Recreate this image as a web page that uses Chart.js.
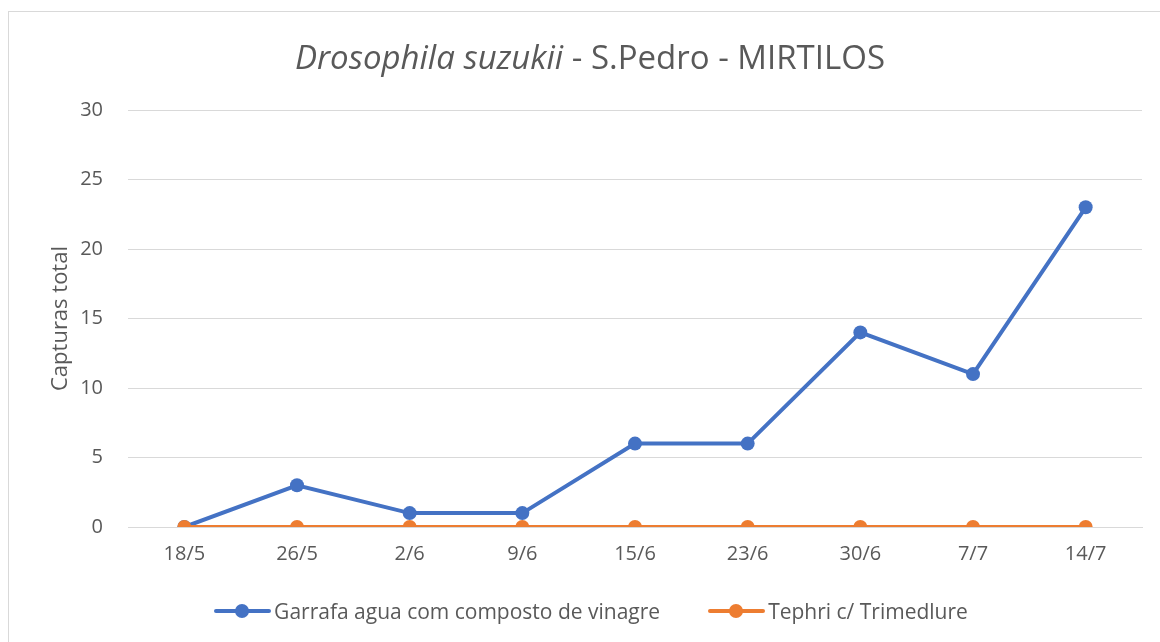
<!DOCTYPE html>
<html>
<head>
<meta charset="utf-8">
<script src="https://cdn.jsdelivr.net/npm/chart.js@4.4.0/dist/chart.umd.min.js"></script>
<style>
    body { margin: 0; background: #fff; font-family: 'Open Sans', sans-serif; }
    #wrap { position: relative; width: 1160px; height: 642px; overflow: hidden; }
    #frame { position: absolute; left: 8px; top: 11px; width: 1200px; height: 700px; border: 1px solid #d9d9d9; }
    #title { position: absolute; left: 0; top: 35px; width: 1180px; text-align: center; font-size: 33px; color: #595959; line-height: 44px; }
    #legend { position: absolute; left: 22px; top: 596px; width: 1138px; display: flex; justify-content: center; gap: 48px; font-size: 21px; color: #595959; }
    .item { display: flex; align-items: center; gap: 3px; }
    .mark { position: relative; width: 57px; height: 30px; }
    .mark .ln { position: absolute; left: 0; top: 13px; width: 57px; height: 4px; border-radius: 2px; }
    .mark .dot { position: absolute; left: 21px; top: 8px; width: 14px; height: 14px; border-radius: 50%; }
    canvas { position: absolute; left: 0; top: 0; }
</style>
</head>
<body>
<div id="wrap">
    <div id="frame"></div>
    <canvas id="chart" width="1160" height="642"></canvas>
    <div id="title"><i>Drosophila suzukii</i> - S.Pedro - MIRTILOS</div>
    <div id="legend"></div>
</div>
<script>
const labels = ['18/5', '26/5', '2/6', '9/6', '15/6', '23/6', '30/6', '7/7', '14/7'];
const garrafa = [0, 3, 1, 1, 6, 6, 14, 11, 23];
const tephri = [0, 0, 0, 0, 0, 0, 0, 0, 0];
const seriesNames = ['Garrafa agua com composto de vinagre', 'Tephri c/ Trimedlure'];
const seriesColors = ['#4472C4', '#ED7D31'];
const yTicks = [0, 5, 10, 15, 20, 25, 30];

const textColor = '#595959';
const gridColor = '#d9d9d9';

function makeSet(name, data, color, order) {
    return {
        label: name,
        data: data,
        borderColor: color,
        backgroundColor: color,
        borderWidth: 4,
        pointRadius: 7,
        pointHoverRadius: 7,
        pointBorderWidth: 0,
        tension: 0,
        order: order
    }
}

const ctx = document.getElementById('chart').getContext('2d');
const chart = new Chart(ctx, {
    type: 'line',
    data: {
        labels: labels,
        datasets: [
            makeSet(seriesNames[0], garrafa, seriesColors[0], 1),
            makeSet(seriesNames[1], tephri, seriesColors[1], 0)
        ]
    },
    options: {
        responsive: false,
        animation: false,
        layout: { padding: { left: 0, top: 110, right: 18, bottom: 0 } },
        scales: {
            x: {
                offset: true,
                grid: { display: false, drawTicks: false },
                border: { display: true, color: gridColor, width: 1 },
                ticks: { color: textColor, font: { family: 'Open Sans', size: 20 }, padding: 15, maxRotation: 0 },
                afterFit: function(scale) { scale.height = 115; }
            },
            y: {
                min: 0,
                max: 30,
                afterBuildTicks: function(scale) { scale.ticks = yTicks.map(v => ({ value: v })); },
                grid: { color: gridColor, lineWidth: 1, drawTicks: false },
                border: { display: false },
                ticks: { color: textColor, font: { family: 'Open Sans', size: 20 }, padding: 25 },
                title: {
                    display: true,
                    text: 'Capturas total',
                    color: textColor,
                    font: { family: 'Open Sans', size: 22, weight: 'normal' },
                    padding: { top: 48, bottom: 0 }
                },
                afterFit: function(scale) { scale.width = 128; }
            }
        },
        plugins: {
            legend: { display: false },
            title: { display: false },
            tooltip: { enabled: false }
        }
    }
});

// legend built from the same series arrays
const legend = document.getElementById('legend');
seriesNames.forEach(function(name, i) {
    const item = document.createElement('div');
    item.className = 'item';
    item.innerHTML = '<span class="mark"><span class="ln" style="background:' + seriesColors[i] + '"></span>' +
        '<span class="dot" style="background:' + seriesColors[i] + '"></span></span><span>' + name + '</span>';
    legend.appendChild(item);
});
</script>
</body>
</html>
